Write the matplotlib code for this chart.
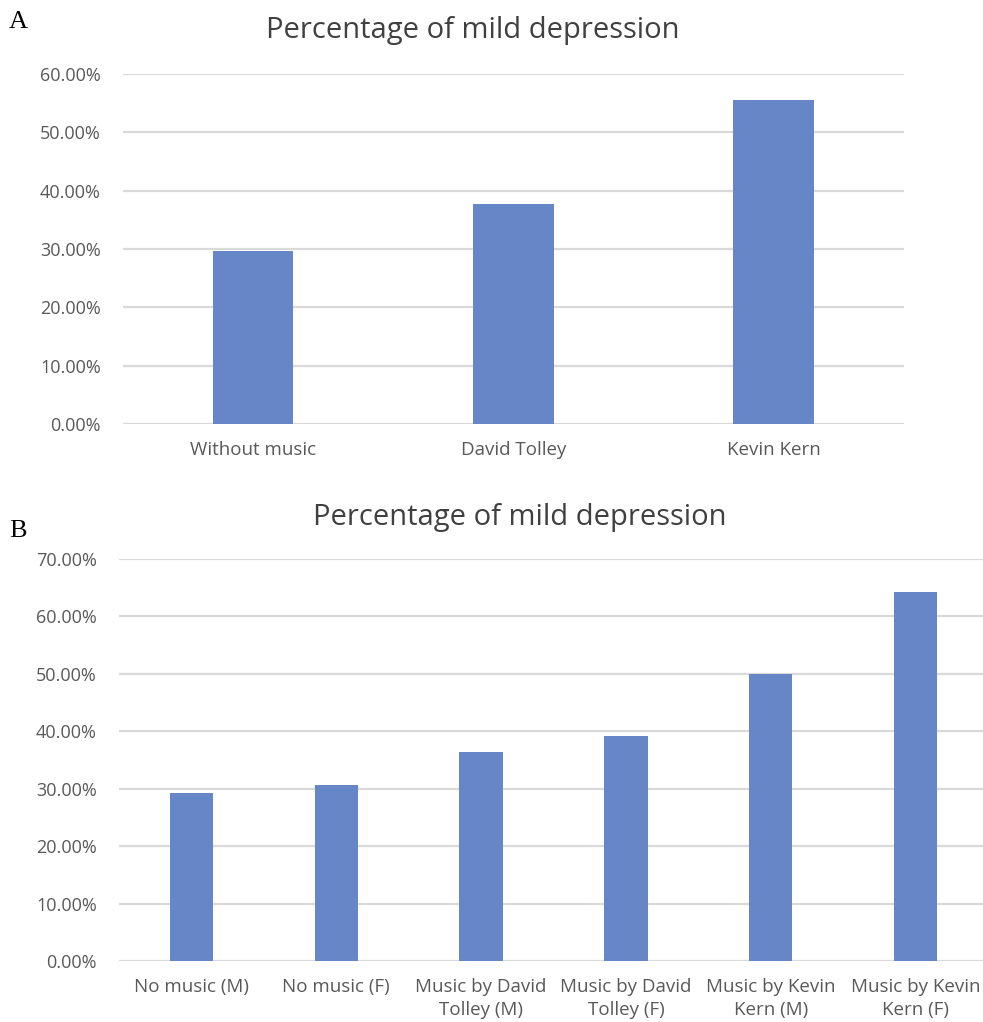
import numpy as np
import matplotlib.pyplot as plt
from matplotlib.ticker import FuncFormatter

# Panel A: overall share with mild depression
groups_a = ["Without music", "David Tolley", "Kevin Kern"]
pct_a = [29.7, 37.7, 55.5]

# Panel B: split by sex
groups_b = ["No music (M)", "No music (F)", "Music by David\nTolley (M)",
            "Music by David\nTolley (F)", "Music by Kevin\nKern (M)",
            "Music by Kevin\nKern (F)"]
pct_b = [29.2, 30.7, 36.4, 39.1, 50.0, 64.3]

BAR = "#6686c7"
GRID = "#d9d9d9"
TXT = "#595959"
plt.rcParams["font.family"] = ["Open Sans", "DejaVu Sans"]

fig = plt.figure(figsize=(9.83, 10.22), dpi=100)


def panel(rect, cats, vals, ymax, width, title, title_xy, letter_xy, letter):
    ax = fig.add_axes(rect)
    x = np.arange(len(cats))
    ax.bar(x, vals, width=width, color=BAR, zorder=3)
    ax.set_xlim(-0.5, len(cats) - 0.5)
    ax.set_ylim(0, ymax)
    ax.set_yticks(np.arange(0, ymax + 1, 10))
    ax.yaxis.set_major_formatter(FuncFormatter(lambda v, _: f"{v:.2f}%"))
    ax.grid(axis="y", color=GRID, linewidth=1.6, zorder=0)
    for s in ax.spines.values():
        s.set_visible(False)
    ax.tick_params(axis="both", length=0, colors=TXT)
    ax.tick_params(axis="y", pad=16, labelsize=13)
    ax.tick_params(axis="x", pad=12, labelsize=13.5)
    ax.set_xticks(x)
    ax.set_xticklabels(cats, linespacing=1.35)
    fig.text(*title_xy, title, ha="center", va="center", fontsize=21,
             color="#404040")
    fig.text(*letter_xy, letter, ha="left", va="center", fontsize=19,
             family="Liberation Serif", color="black")
    return ax


panel([0.1251, 0.5851, 0.7945, 0.3425], groups_a, pct_a, 60, 0.31,
      "Percentage of mild depression", (0.481, 1 - 30 / 1022),
      (0.009, 1 - 22 / 1022), "A")
panel([0.1211, 0.0597, 0.884, 0.3933], groups_b, pct_b, 70, 0.30,
      "Percentage of mild depression", (0.529, 1 - 517 / 1022),
      (0.009, 1 - 531 / 1022), "B")

fig.savefig("out.png", dpi=100)
